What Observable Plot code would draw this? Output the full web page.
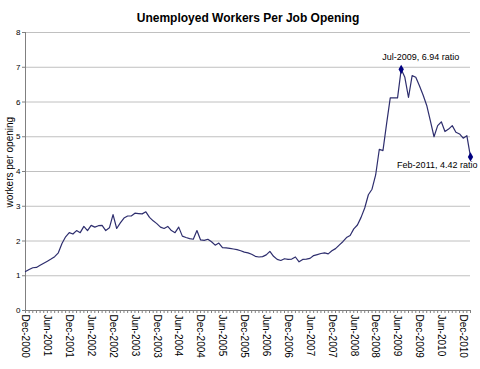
<!DOCTYPE html>
<html><head><meta charset="utf-8">
<script src="https://cdn.jsdelivr.net/npm/d3@7"></script>
<script src="https://cdn.jsdelivr.net/npm/@observablehq/plot@0.6"></script>
<style>body{margin:0;background:#fff} svg{display:block}</style>
</head><body><div id="chart"></div>
<script>
const title = "Unemployed Workers Per Job Opening";
const yLabel = "workers per opening";
// monthly ratio, Dec-2000 .. Feb-2011 (123 months)
const ratio = [
  1.12, 1.18, 1.23, 1.24, 1.30, 1.36, 1.42, 1.48, 1.55, 1.66, // Dec-00..Sep-01
  1.93, 2.12, 2.24, 2.20, 2.30, 2.24, 2.42, 2.30, 2.45, 2.40, // Oct-01..Jul-02
  2.44, 2.45, 2.30, 2.38, 2.76, 2.36, 2.52, 2.66, 2.72, 2.72, // Aug-02..May-03
  2.80, 2.79, 2.78, 2.84, 2.68, 2.58, 2.50, 2.40, 2.36, 2.42, // Jun-03..Mar-04
  2.30, 2.24, 2.40, 2.14, 2.10, 2.07, 2.05, 2.30, 2.03, 2.02, // Apr-04..Jan-05
  2.05, 1.98, 1.88, 1.94, 1.81, 1.80, 1.79, 1.77, 1.75, 1.72, // Feb-05..Nov-05
  1.68, 1.66, 1.62, 1.56, 1.54, 1.55, 1.60, 1.70, 1.56, 1.47, // Dec-05..Sep-06
  1.44, 1.49, 1.47, 1.48, 1.54, 1.40, 1.47, 1.48, 1.50, 1.58, // Oct-06..Jul-07
  1.61, 1.64, 1.66, 1.63, 1.72, 1.78, 1.88, 1.98, 2.10, 2.16, // Aug-07..May-08
  2.35, 2.46, 2.68, 2.95, 3.33, 3.49, 3.90, 4.64, 4.60, 5.38, // Jun-08..Mar-09
  6.12, 6.12, 6.12, 6.94, 6.71, 6.13, 6.76, 6.71, 6.47, 6.20, // Apr-09..Jan-10
  5.90, 5.46, 5.00, 5.32, 5.43, 5.15, 5.22, 5.32, 5.13, 5.08, // Feb-10..Nov-10
  4.96, 5.03, 4.42                                            // Dec-10..Feb-11
];
const tickLabels = ["Dec-2000","Jun-2001","Dec-2001","Jun-2002","Dec-2002","Jun-2003",
  "Dec-2003","Jun-2004","Dec-2004","Jun-2005","Dec-2005","Jun-2006","Dec-2006",
  "Jun-2007","Dec-2007","Jun-2008","Dec-2008","Jun-2009","Dec-2009","Jun-2010","Dec-2010"];
const yTicks = [0, 1, 2, 3, 4, 5, 6, 7, 8];
const peak = {month: "Jul-2009", value: 6.94, label: "Jul-2009, 6.94 ratio"};
const last = {month: "Feb-2011", value: 4.42, label: "Feb-2011, 4.42 ratio"};

const fmt = d3.utcFormat("%b-%Y");
const months = d3.utcMonth.range(new Date(Date.UTC(2000, 11, 1)), new Date(Date.UTC(2011, 2, 1))).map(fmt);
const data = months.map((m, i) => ({month: m, value: ratio[i]}));

const font = "'Liberation Sans', Arial, sans-serif";
const chart = Plot.plot({
  width: 480, height: 369,
  marginLeft: 25, marginRight: 10, marginTop: 32, marginBottom: 59,
  style: {fontFamily: font, fontSize: "9px", color: "#000", background: "#fff"},
  x: {type: "point", domain: months, padding: 0},
  y: {domain: [0, 8]},
  marks: [
    Plot.gridY(yTicks.slice(1), {stroke: "#c0c0c0", strokeOpacity: 1}),
    Plot.axisY(yTicks, {tickSize: 3, tickPadding: 2, label: null, fontSize: 8, stroke: "#808080"}),
    Plot.axisX(months, {tickSize: 3, tickFormat: () => "", label: null, stroke: "#808080"}),
    Plot.axisX(tickLabels, {tickSize: 0, tickRotate: 90, tickPadding: 4, label: null, fontSize: 10}),
    Plot.ruleY([0], {stroke: "#808080"}),
    Plot.ruleX([months[0]], {stroke: "#808080"}),
    Plot.lineY(data, {x: "month", y: "value", stroke: "#2e2e6e", strokeWidth: 1.2}),
    Plot.dot([peak, last], {x: "month", y: "value", symbol: "diamond", fill: "#000080", stroke: "none", r: 2.8}),
    Plot.text([peak], {x: "month", y: "value", text: "label", textAnchor: "start", dx: -19, dy: -12, fontSize: 9}),
    Plot.text([last], {x: "month", y: "value", text: "label", textAnchor: "end", dx: 7, dy: 8, fontSize: 9}),
    Plot.text([title], {frameAnchor: "top", dy: -19, fontWeight: "bold", fontSize: 12, letterSpacing: "0.3px"}),
    Plot.text([yLabel], {frameAnchor: "left", rotate: -90, dx: -16, dy: 36, fontSize: 10})
  ]
});
document.getElementById("chart").append(chart);
</script>
</body></html>
